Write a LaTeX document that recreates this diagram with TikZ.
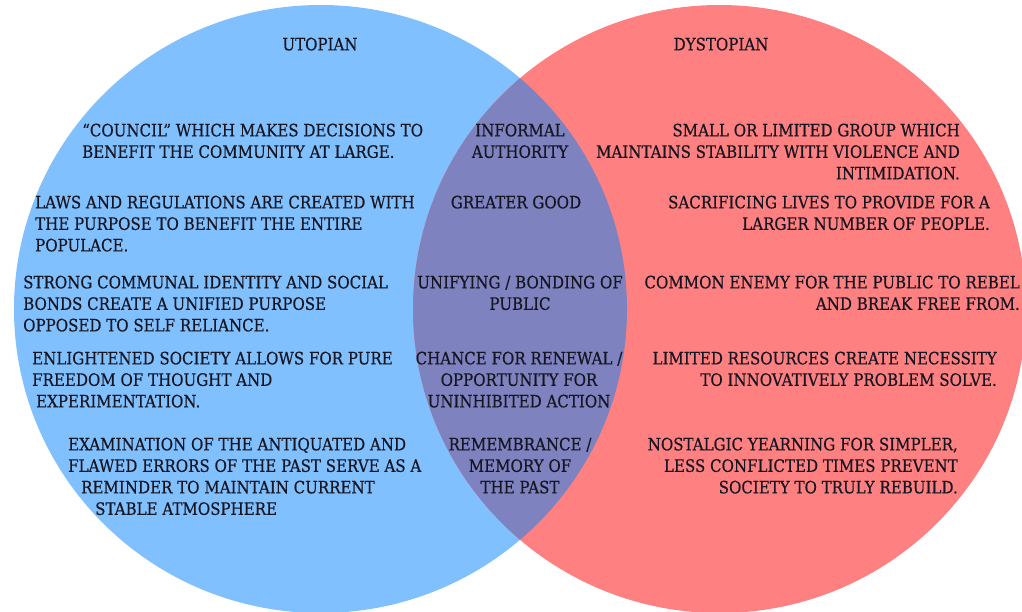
\documentclass[tikz,border=0pt]{standalone}
\usepackage{fontspec}
\setmainfont{DejaVu Serif}[FakeStretch=0.885,FakeBold=0.5]
\definecolor{cblue}{RGB}{128,192,255}
\definecolor{cred}{RGB}{255,128,128}
\definecolor{cmix}{RGB}{126,130,190}
\definecolor{ctext}{RGB}{22,22,34}
\tikzset{
  txt/.style={inner sep=0pt, text=ctext, font={\fontsize{17}{21.5}\selectfont}},
  lft/.style={txt, anchor=north west, align=left},
  mid/.style={txt, anchor=north, align=center},
  rgt/.style={txt, anchor=north east, align=right}
}
\begin{document}
\begin{tikzpicture}[x=1pt,y=-1pt]
\useasboundingbox (0,0) rectangle (1022,611);
\fill[cblue] (320.5,309) ellipse [x radius=306.5, y radius=304];
\fill[cred] (719.5,309) ellipse [x radius=306.5, y radius=304];
\begin{scope}
  \clip (320.5,309) ellipse [x radius=306.5, y radius=304];
  \fill[cmix] (719.5,309) ellipse [x radius=306.5, y radius=304];
\end{scope}
\node[mid] (tu) at (320,37.5) {UTOPIAN};
\node[mid] (td) at (721,37.5) {DYSTOPIAN};
\node[lft] (u1) at (82,123.5) {“COUNCIL” WHICH MAKES DECISIONS TO\\BENEFIT THE COMMUNITY AT LARGE.};
\node[lft] (u2) at (35,195.5) {LAWS AND REGULATIONS ARE CREATED WITH\\THE PURPOSE TO BENEFIT THE ENTIRE\\POPULACE.};
\node[lft] (u3) at (23,275.5) {STRONG COMMUNAL IDENTITY AND SOCIAL\\BONDS CREATE A UNIFIED PURPOSE\\OPPOSED TO SELF RELIANCE.};
\node[lft] (u4) at (32,351.5) {ENLIGHTENED SOCIETY ALLOWS FOR PURE\\FREEDOM OF THOUGHT AND\\\hspace*{4pt}EXPERIMENTATION.};
\node[lft] (u5) at (68,437.5) {EXAMINATION OF THE ANTIQUATED AND\\FLAWED ERRORS OF THE PAST SERVE AS A\\\hspace*{13pt}REMINDER TO MAINTAIN CURRENT\\\hspace*{27pt}STABLE ATMOSPHERE};
\node[mid] (m1) at (520,123.5) {INFORMAL\\AUTHORITY};
\node[mid] (m2) at (516,195.5) {GREATER GOOD};
\node[mid] (m3) at (520,275.5) {UNIFYING / BONDING OF\\PUBLIC};
\node[mid] (m4) at (519,351.5) {CHANCE FOR RENEWAL /\\OPPORTUNITY FOR\\UNINHIBITED ACTION};
\node[mid] (m5) at (520,437.5) {REMEMBRANCE /\\MEMORY OF\\THE PAST};
\node[rgt] (d1) at (960,123.5) {SMALL OR LIMITED GROUP WHICH\\MAINTAINS STABILITY WITH VIOLENCE AND\\INTIMIDATION.};
\node[rgt] (d2) at (990,195.5) {SACRIFICING LIVES TO PROVIDE FOR A\\LARGER NUMBER OF PEOPLE.};
\node[rgt] (d3) at (1020,275.5) {COMMON ENEMY FOR THE PUBLIC TO REBEL\\AND BREAK FREE FROM.};
\node[rgt] (d4) at (997,351.5) {LIMITED RESOURCES CREATE NECESSITY\\TO INNOVATIVELY PROBLEM SOLVE.};
\node[rgt] (d5) at (958,437.5) {NOSTALGIC YEARNING FOR SIMPLER,\\LESS CONFLICTED TIMES PREVENT\\SOCIETY TO TRULY REBUILD.};
\end{tikzpicture}
\end{document}
